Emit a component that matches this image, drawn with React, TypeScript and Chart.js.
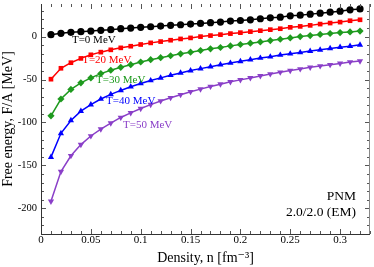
import React, { useEffect, useRef } from "react";
import { Chart, registerables } from "chart.js";

Chart.register(...registerables);

const density = [0.01,0.02,0.03,0.04,0.05,0.06,0.07,0.08,0.09,0.1,0.11,0.12,0.13,0.14,0.15,0.16,0.17,0.18,0.19,0.2,0.21,0.22,0.23,0.24,0.25,0.26,0.27,0.28,0.29,0.3,0.31,0.32];
const fT0 = [2.3,3.8,5.0,5.8,6.5,7.3,8.1,9.2,10,10.8,11.5,12.3,13.1,13.8,14.6,15.4,16.2,16.9,18.1,18.8,19.6,20.8,21.9,22.7,24.2,25,26.2,27.3,28.5,29.6,31.2,32.3];
const fT20 = [-49.6,-36.9,-30.4,-25.4,-21.2,-18.1,-15.4,-13.1,-11.2,-9.2,-7.3,-5.8,-4.2,-2.7,-1.5,0,1.2,2.3,3.5,4.6,5.8,6.9,8.1,9.2,10.8,11.9,13.1,14.6,15.8,16.9,18.5,19.6];
const fT30 = [-92.3,-72.7,-61.5,-53.8,-48.1,-43.1,-39.2,-35.8,-32.7,-29.6,-26.9,-24.6,-22.3,-20,-18.1,-16.2,-14.2,-12.7,-10.8,-9.2,-7.7,-6.2,-4.6,-3.1,-1.5,0,1.2,2.5,3.6,4.7,5.5,6.5];
const fT40 = [-140.4,-112.7,-97.7,-86.9,-79.2,-72.7,-67.3,-62.7,-58.5,-54.6,-51.2,-48.1,-45,-42.3,-39.6,-37.3,-35,-32.7,-30.8,-28.8,-26.9,-25,-23.5,-21.5,-20,-18.5,-16.9,-15.4,-13.8,-12.3,-11.2,-9.6];
const fT50 = [-191.9,-157.3,-138.8,-125.8,-115.8,-107.7,-100.8,-94.2,-88.8,-83.8,-79.2,-75,-71.2,-67.7,-64.2,-61.2,-58.1,-55.4,-52.7,-50.4,-48.1,-45.8,-43.5,-41.5,-39.6,-37.7,-35.8,-34.2,-32.7,-31.2,-29.6,-28.5];

const seriesNames = ["T=0 MeV", "T=20 MeV", "T=30 MeV", "T=40 MeV", "T=50 MeV"];
const seriesValues = [fT0, fT20, fT30, fT40, fT50];
const seriesColors = ["#000000", "#ff0000", "#1e9a1e", "#0000ff", "#8a3fc8"];
const seriesMarkers = ["circle", "rect", "rectRot", "triangle", "triangle"];
const seriesRotation = [0, 0, 0, 0, 180];

const xTicks = [0, 0.05, 0.1, 0.15, 0.2, 0.25, 0.3];
const yTicks = [-200, -150, -100, -50, 0];
const xRange = [0, 0.33];
const yRange = [-230, 38];

// label anchors in data space: [x, y]
const labelPos = [[0.053, -4.0], [0.066, -27.5], [0.08, -50.3], [0.09, -75.2], [0.107, -103.7]];
const noteLines = ["PNM", "2.0/2.0 (EM)"];
const notePos = [[0.316, -186], [0.316, -205.4]];

const SERIF = "'Liberation Serif', 'DejaVu Serif', serif";

const decorPlugin = {
  id: "decor",
  afterDatasetsDraw(chart: any) {
    const { ctx, chartArea: a, scales } = chart;
    const xs = scales.x, ys = scales.y;
    ctx.save();
    // ticks inward on all sides
    ctx.strokeStyle = "#555";
    ctx.lineWidth = 1;
    ctx.beginPath();
    for (let i = 0; i <= 33; i++) {
      const v = i * 0.01;
      const px = Math.round(xs.getPixelForValue(v)) + 0.5;
      const major = i % 5 === 0;
      const len = major ? 5 : 3;
      ctx.moveTo(px, a.bottom); ctx.lineTo(px, a.bottom - len);
      ctx.moveTo(px, a.top); ctx.lineTo(px, a.top + len);
    }
    for (let v = -230; v <= 30; v += 10) {
      const py = Math.round(ys.getPixelForValue(v)) + 0.5;
      const major = v % 50 === 0;
      const len = major ? 5 : 3;
      ctx.moveTo(a.left, py); ctx.lineTo(a.left + len, py);
      ctx.moveTo(a.right, py); ctx.lineTo(a.right - len, py);
    }
    ctx.stroke();
    // frame
    ctx.strokeStyle = "#333";
    ctx.beginPath();
    ctx.moveTo(Math.round(a.left) + 0.5, a.top);
    ctx.lineTo(Math.round(a.left) + 0.5, Math.round(a.bottom) + 0.5);
    ctx.lineTo(a.right, Math.round(a.bottom) + 0.5);
    ctx.stroke();
    ctx.strokeStyle = "#888";
    ctx.beginPath();
    ctx.moveTo(Math.round(a.right) - 0.5, a.top);
    ctx.lineTo(Math.round(a.right) - 0.5, a.bottom);
    ctx.stroke();

    // series labels
    ctx.font = `11px ${SERIF}`;
    ctx.textAlign = "center";
    ctx.textBaseline = "middle";
    labelPos.forEach((p, i) => {
      ctx.fillStyle = seriesColors[i];
      ctx.fillText(seriesNames[i], xs.getPixelForValue(p[0]), ys.getPixelForValue(p[1]));
    });
    ctx.font = `13.5px ${SERIF}`;
    ctx.textAlign = "right";
    ctx.fillStyle = "#000";
    noteLines.forEach((t, i) => {
      ctx.fillText(t, xs.getPixelForValue(notePos[i][0]), ys.getPixelForValue(notePos[i][1]));
    });
    ctx.restore();
  },
};

export default function App() {
  const ref = useRef<HTMLCanvasElement | null>(null);
  useEffect(() => {
    if (!ref.current) return;
    const chart = new Chart(ref.current, {
      type: "line",
      data: {
        datasets: seriesValues.map((vals, i) => ({
          label: seriesNames[i],
          data: density.map((x, j) => ({ x, y: vals[j] })),
          borderColor: seriesColors[i],
          backgroundColor: seriesColors[i],
          borderWidth: 1.5,
          pointStyle: seriesMarkers[i] as any,
          pointRotation: seriesRotation[i],
          pointRadius: seriesMarkers[i] === "rect" ? 3.3 : 3.6,
          pointBorderWidth: 0,
          tension: 0,
        })),
      },
      options: {
        animation: false,
        responsive: false,
        maintainAspectRatio: false,
        layout: { padding: { top: 0, right: 2, left: 0, bottom: 0 } },
        plugins: { legend: { display: false }, tooltip: { enabled: false } },
        scales: {
          x: {
            type: "linear",
            min: xRange[0],
            max: xRange[1],
            afterBuildTicks: (s: any) => { s.ticks = xTicks.map((v) => ({ value: v })); },
            afterFit: (s: any) => { s.height = 33; s.paddingLeft = 0; s.paddingRight = 0; },
            grid: { display: false, drawTicks: false },
            border: { display: false },
            ticks: {
              padding: 0,
              color: "#000",
              font: { family: SERIF, size: 11 },
              maxRotation: 0,
              callback: (v: any) => String(v),
            },
            title: {
              display: true,
              text: "Density, n [fm⁻³]",
              color: "#000",
              font: { family: SERIF, size: 14 },
              padding: { top: 0, bottom: 0 },
            },
          },
          y: {
            type: "linear",
            min: yRange[0],
            max: yRange[1],
            afterBuildTicks: (s: any) => { s.ticks = yTicks.map((v) => ({ value: v })); },
            afterFit: (s: any) => { s.width = 41; s.paddingTop = 0; s.paddingBottom = 0; },
            grid: { display: false, drawTicks: false },
            border: { display: false },
            ticks: {
              padding: 4,
              color: "#000",
              font: { family: SERIF, size: 10.5 },
              callback: (v: any) => String(v),
            },
            title: {
              display: true,
              text: "Free energy, F/A [MeV]",
              color: "#000",
              font: { family: SERIF, size: 14 },
              padding: { top: 0, bottom: 0 },
            },
          },
        },
      },
      plugins: [decorPlugin],
    });
    return () => chart.destroy();
  }, []);
  return (
    <div style={{ position: "fixed", left: 0, top: 0, width: 374, height: 267, background: "#fff" }}>
      <canvas ref={ref} width={374} height={267} style={{ width: 374, height: 267, display: "block" }} />
    </div>
  );
}
